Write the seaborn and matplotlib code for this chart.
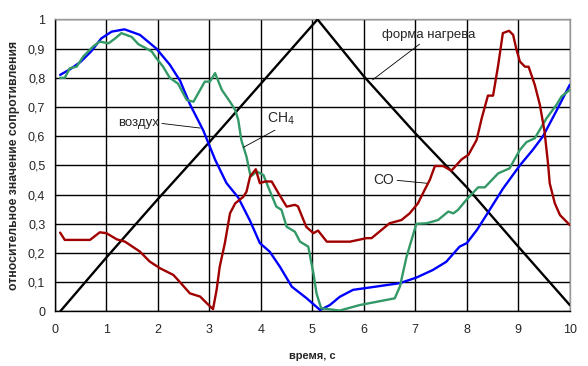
import numpy as np
import pandas as pd
import matplotlib
matplotlib.use('Agg')
import matplotlib.pyplot as plt
import seaborn as sns

# ── Data ──────────────────────────────────────────────────────────────────────
heat_t = [0.1, 1.0, 2.0, 3.0, 4.0, 5.1, 6.0, 7.0, 8.0, 9.0, 10.0]
heat_v = [0.0, 0.185, 0.385, 0.58, 0.78, 1.0, 0.805, 0.61, 0.425, 0.222, 0.022]

air_t = [0.1, 0.3, 0.5, 0.7, 0.9, 1.1, 1.35, 1.65, 1.97, 2.23, 2.43, 2.62, 2.88,
         3.11, 3.33, 3.56, 3.79, 3.98, 4.17, 4.37, 4.6, 4.89, 5.15, 5.34, 5.53,
         5.79, 6.31, 6.7, 7.02, 7.34, 7.6, 7.86, 8.0, 8.2, 8.38, 8.7, 9.03, 9.28,
         9.48, 9.75, 10.0]
air_v = [0.81, 0.83, 0.855, 0.89, 0.935, 0.958, 0.966, 0.947, 0.90, 0.845, 0.79,
         0.71, 0.62, 0.52, 0.44, 0.39, 0.31, 0.234, 0.205, 0.153, 0.085, 0.045,
         0.005, 0.022, 0.05, 0.074, 0.087, 0.097, 0.116, 0.142, 0.17, 0.222,
         0.234, 0.28, 0.33, 0.42, 0.50, 0.553, 0.60, 0.69, 0.776]

ch4_t = [0.1, 0.19, 0.29, 0.42, 0.55, 0.74, 0.87, 1.04, 1.17, 1.29, 1.49, 1.62,
         1.78, 1.88, 1.97, 2.10, 2.23, 2.39, 2.56, 2.69, 2.91, 3.01, 3.11, 3.24,
         3.40, 3.50, 3.56, 3.62, 3.72, 3.80, 3.92, 4.05, 4.14, 4.30, 4.40, 4.50,
         4.66, 4.76, 4.92, 5.02, 5.08, 5.17, 5.53, 5.92, 6.60, 6.70, 6.83, 7.02,
         7.22, 7.44, 7.64, 7.74, 7.83, 7.99, 8.22, 8.35, 8.61, 8.83, 9.03, 9.16,
         9.32, 9.55, 9.74, 9.84, 10.0]
ch4_v = [0.80, 0.80, 0.833, 0.838, 0.873, 0.907, 0.924, 0.918, 0.935, 0.953,
         0.94, 0.915, 0.90, 0.89, 0.867, 0.838, 0.80, 0.78, 0.724, 0.718, 0.787,
         0.787, 0.816, 0.759, 0.718, 0.69, 0.656, 0.587, 0.53, 0.462, 0.479,
         0.467, 0.427, 0.359, 0.348, 0.29, 0.273, 0.239, 0.222, 0.131, 0.062,
         0.011, 0.003, 0.022, 0.045, 0.085, 0.188, 0.30, 0.302, 0.313, 0.342,
         0.336, 0.348, 0.382, 0.425, 0.425, 0.473, 0.49, 0.553, 0.58, 0.593,
         0.662, 0.707, 0.736, 0.759]

co_t = [0.1, 0.19, 0.68, 0.87, 1.0, 1.2, 1.36, 1.65, 1.84, 2.04, 2.30, 2.43,
        2.62, 2.82, 2.95, 3.07, 3.14, 3.20, 3.30, 3.40, 3.50, 3.66, 3.72, 3.79,
        3.90, 3.98, 4.08, 4.21, 4.34, 4.50, 4.66, 4.72, 4.88, 5.02, 5.11, 5.28,
        5.73, 6.05, 6.15, 6.50, 6.73, 6.89, 7.05, 7.18, 7.28, 7.38, 7.54, 7.70,
        7.90, 8.03, 8.19, 8.29, 8.41, 8.51, 8.61, 8.70, 8.82, 8.90, 8.96, 9.03,
        9.13, 9.20, 9.32, 9.42, 9.51, 9.58, 9.61, 9.71, 9.81, 10.0]
co_v = [0.27, 0.245, 0.245, 0.271, 0.268, 0.247, 0.239, 0.205, 0.171, 0.148,
        0.125, 0.10, 0.062, 0.051, 0.028, 0.008, 0.074, 0.153, 0.234, 0.336,
        0.37, 0.393, 0.41, 0.462, 0.487, 0.439, 0.445, 0.445, 0.405, 0.359,
        0.365, 0.36, 0.29, 0.268, 0.277, 0.239, 0.239, 0.251, 0.251, 0.302,
        0.313, 0.336, 0.37, 0.416, 0.45, 0.498, 0.498, 0.482, 0.521, 0.536,
        0.587, 0.662, 0.739, 0.739, 0.844, 0.953, 0.961, 0.947, 0.90, 0.856,
        0.838, 0.838, 0.776, 0.707, 0.616, 0.502, 0.439, 0.37, 0.33, 0.296]

y_ticks = [0, 0.1, 0.2, 0.3, 0.4, 0.5, 0.6, 0.7, 0.8, 0.9, 1]
y_tick_labels = ['0', '0,1', '0,2', '0,3', '0,4', '0,5', '0,6', '0,7', '0,8', '0,9', '1']
x_ticks = list(range(0, 11))

# ── Plot ──────────────────────────────────────────────────────────────────────
sns.set_style('white')
plt.rcParams['font.family'] = ['Liberation Sans', 'DejaVu Sans']

fig = plt.figure(figsize=(5.88, 3.66), dpi=100)
ax = fig.add_axes([0.0935, 0.149, 0.8755, 0.798])

series = [
    (heat_t, heat_v, '#000000'),
    (air_t, air_v, '#0000FF'),
    (ch4_t, ch4_v, '#339966'),
    (co_t, co_v, '#A00000'),
]
for t, v, c in series:
    sns.lineplot(x=t, y=v, ax=ax, color=c, linewidth=1.7, sort=False,
                 estimator=None, zorder=3)

ax.set_xlim(0, 10)
ax.set_ylim(0, 1)
ax.set_xticks(x_ticks)
ax.set_yticks(y_ticks)
ax.set_yticklabels(y_tick_labels)
ax.grid(True, color='black', linewidth=1.0)
ax.set_axisbelow(True)
ax.tick_params(axis='both', direction='out', length=3, width=1, color='black',
               labelsize=9)
ax.tick_params(axis='x', pad=6)
ax.tick_params(axis='y', pad=4)

for side in ['left', 'bottom']:
    ax.spines[side].set_color('black')
    ax.spines[side].set_linewidth(1.0)
for side in ['top', 'right']:
    ax.spines[side].set_color('#999999')
    ax.spines[side].set_linewidth(1.0)

ax.set_xlabel('время, с', fontsize=8, fontweight='bold', labelpad=11)
ax.set_ylabel('относительное значение сопротивления', fontsize=8.8,
              fontweight='bold', labelpad=6)

# ── Annotations ───────────────────────────────────────────────────────────────
ax.annotate('форма нагрева', xy=(6.17, 0.793), xytext=(6.35, 0.947),
            fontsize=9.5, va='center', ha='left',
            arrowprops=dict(arrowstyle='-', color='black', lw=0.6,
                            shrinkA=0, shrinkB=0, relpos=(0.45, 0.0)))
ax.annotate('воздух', xy=(2.82, 0.628), xytext=(1.22, 0.645),
            fontsize=9.5, va='center', ha='left',
            arrowprops=dict(arrowstyle='-', color='black', lw=0.6,
                            shrinkA=0, shrinkB=0, relpos=(1.0, 0.5)))
ax.annotate('CH$_4$', xy=(3.66, 0.562), xytext=(4.12, 0.66),
            fontsize=10, va='center', ha='left',
            arrowprops=dict(arrowstyle='-', color='black', lw=0.6,
                            shrinkA=0, shrinkB=0, relpos=(0.5, 0.0)))
ax.annotate('CO', xy=(7.22, 0.439), xytext=(6.18, 0.45),
            fontsize=10, va='center', ha='left',
            arrowprops=dict(arrowstyle='-', color='black', lw=0.6,
                            shrinkA=0, shrinkB=0, relpos=(1.0, 0.5)))

fig.savefig('out.png', dpi=100)
